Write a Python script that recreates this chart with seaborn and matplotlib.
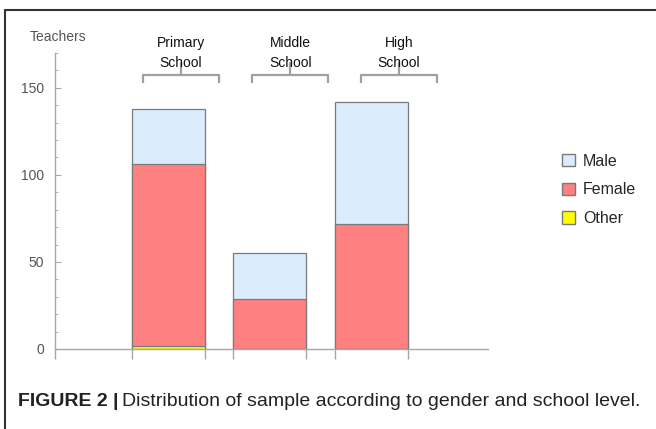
import numpy as np
import pandas as pd
import matplotlib.pyplot as plt
import seaborn as sns
from matplotlib.patches import Patch
from matplotlib.lines import Line2D

# data
schools = ['Primary\nSchool', 'Middle\nSchool', 'High\nSchool']
other = [2, 0, 0]
female = [104, 29, 72]
male = [32, 26, 70]

colors = {'Male': '#dbecfc', 'Female': '#ff8080', 'Other': '#ffff00'}
edge = '#7a7a7a'

df = pd.DataFrame({'school': schools, 'Other': other, 'Female': female, 'Male': male})
df['cum_other'] = df['Other']
df['cum_female'] = df['Other'] + df['Female']
df['cum_male'] = df['cum_female'] + df['Male']

sns.set_style('white')
plt.rcParams['font.family'] = ['Liberation Sans', 'DejaVu Sans']

fig = plt.figure(figsize=(6.56, 4.29), dpi=100)
ax = fig.add_axes([55 / 656, 80 / 429, 433 / 656, 296 / 429])

bw = 0.72
# stacked bars: draw cumulative totals back to front
for col, name in [('cum_male', 'Male'), ('cum_female', 'Female'), ('cum_other', 'Other')]:
    sns.barplot(data=df, x='school', y=col, color=colors[name], width=bw,
                edgecolor=edge, linewidth=0.9, saturation=1, ax=ax)

ax.set_xlim(-1.12, 3.15)
ax.set_ylim(0, 170)
ax.set_xlabel('')
ax.set_ylabel('')

for s in ['top', 'right']:
    ax.spines[s].set_visible(False)
for s in ['left', 'bottom']:
    ax.spines[s].set_color('#a8a8a8')
    ax.spines[s].set_linewidth(1.0)

# x ticks at bar edges
xt = [-1.12] + [v for i in range(len(schools)) for v in (i - bw / 2, i + bw / 2)]
ax.set_xticks(xt)
ax.set_xticklabels([])
ax.tick_params(axis='x', direction='out', length=7, color='#a8a8a8', width=1, bottom=True)

ax.set_yticks([0, 50, 100, 150])
ax.set_yticks(np.arange(0, 171, 10), minor=True)
ax.tick_params(axis='y', which='major', direction='in', length=4, color='#a8a8a8',
               labelsize=10, labelcolor='#555555', pad=8, left=True)
ax.tick_params(axis='y', which='minor', direction='in', length=2.5, color='#a8a8a8', left=True)

fig.text(30 / 656, 1 - 37 / 429, 'Teachers', fontsize=10, color='#555555', va='center', ha='left')

# brackets with group labels above each bar
offs = [0.12, 0.2, 0.27]
bh = 0.75
for i, lab in enumerate(schools):
    c = i + offs[i]
    x0, x1 = c - bh / 2, c + bh / 2
    ax.plot([x0, x0, x1, x1], [152.5, 157.3, 157.3, 152.5], color='#a0a0a0', lw=1.6,
            clip_on=False, solid_capstyle='butt')
    ax.plot([c, c], [157.3, 164.5], color='#a0a0a0', lw=1.6, clip_on=False)
    ax.text(c, 170, lab, ha='center', va='center', fontsize=10, color='#111111',
            linespacing=1.5)

handles = [Patch(facecolor=colors[n], edgecolor=edge, label=n) for n in ['Male', 'Female', 'Other']]
fig.legend(handles=handles, loc='center left', bbox_to_anchor=(548 / 656, 1 - 190 / 429),
           frameon=False, fontsize=11.5, handlelength=0.8, handleheight=0.8,
           handletextpad=0.5, labelspacing=0.85)

# journal frame and caption
fig.add_artist(Line2D([5 / 656, 5 / 656], [0, 1 - 10 / 429], color='#333333', lw=1.5))
fig.add_artist(Line2D([5 / 656, 1], [1 - 10 / 429, 1 - 10 / 429], color='#333333', lw=1.5))
t = fig.text(18 / 656, 1 - 401 / 429, 'FIGURE 2 |', fontsize=14, fontweight='bold',
             color='#222222', va='center', ha='left')
fig.canvas.draw()
bb = t.get_window_extent()
fig.text((bb.x1 + 3) / 656, 1 - 401 / 429, 'Distribution of sample according to gender and school level.',
         fontsize=14, color='#222222', va='center', ha='left')

fig.savefig('out.png', dpi=100)
